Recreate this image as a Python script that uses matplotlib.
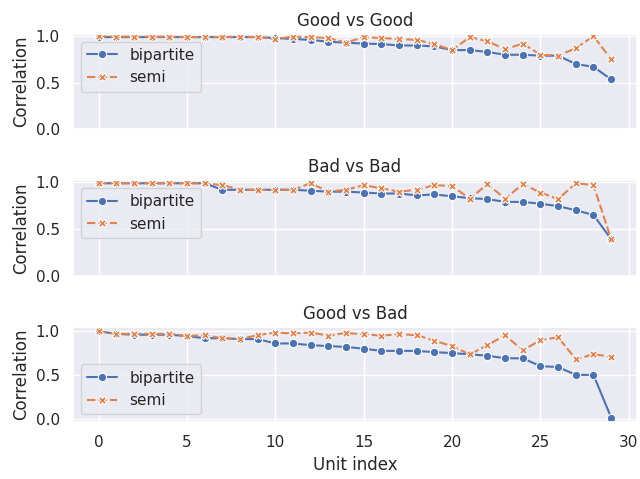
import numpy as np
import matplotlib
matplotlib.use("Agg")
import matplotlib.pyplot as plt
import seaborn as sns

units = list(range(30))

gg_bipartite = [0.99, 0.99, 0.99, 0.99, 0.99, 0.99, 0.99, 0.99, 0.99, 0.99,
                0.98, 0.97, 0.96, 0.94, 0.93, 0.92, 0.915, 0.90, 0.90, 0.89,
                0.85, 0.85, 0.83, 0.80, 0.80, 0.79, 0.79, 0.70, 0.67, 0.535]
gg_semi = [1.0, 0.995, 0.995, 0.995, 0.995, 0.99, 0.99, 0.99, 0.995, 0.99,
           0.97, 0.995, 0.99, 0.98, 0.93, 0.99, 0.98, 0.97, 0.96, 0.915,
           0.85, 0.99, 0.945, 0.86, 0.92, 0.80, 0.79, 0.87, 1.0, 0.75]

bb_bipartite = [0.99, 0.99, 0.99, 0.99, 0.99, 0.99, 0.99, 0.92, 0.92, 0.92,
                0.92, 0.92, 0.91, 0.90, 0.90, 0.89, 0.88, 0.88, 0.86, 0.87,
                0.85, 0.83, 0.82, 0.79, 0.79, 0.77, 0.745, 0.70, 0.65, 0.39]
bb_semi = [0.99, 0.99, 0.99, 0.99, 0.99, 0.99, 0.99, 0.97, 0.92, 0.92,
           0.92, 0.92, 0.99, 0.90, 0.92, 0.97, 0.935, 0.90, 0.92, 0.97,
           0.96, 0.825, 0.98, 0.825, 0.98, 0.89, 0.82, 0.99, 0.97, 0.39]

gb_bipartite = [1.0, 0.97, 0.96, 0.96, 0.96, 0.945, 0.92, 0.92, 0.91, 0.91,
                0.86, 0.86, 0.84, 0.83, 0.82, 0.80, 0.775, 0.775, 0.775, 0.76,
                0.75, 0.735, 0.72, 0.69, 0.69, 0.60, 0.59, 0.50, 0.50, 0.01]
gb_semi = [1.0, 0.97, 0.97, 0.97, 0.97, 0.945, 0.955, 0.92, 0.91, 0.955,
           0.985, 0.975, 0.985, 0.95, 0.98, 0.965, 0.95, 0.965, 0.955, 0.89,
           0.83, 0.735, 0.84, 0.955, 0.78, 0.90, 0.93, 0.68, 0.735, 0.71]

titles = ["Good vs Good", "Bad vs Bad", "Good vs Bad"]
series = [(gg_bipartite, gg_semi), (bb_bipartite, bb_semi), (gb_bipartite, gb_semi)]
legend_locs = ["upper left", "upper left", "lower left"]

sns.set_theme()
pal = sns.color_palette()

fig, axes = plt.subplots(3, 1, figsize=(6.4, 4.79), dpi=100, sharex=True)
for ax, title, (bip, semi), loc in zip(axes, titles, series, legend_locs):
    ax.plot(units, bip, color=pal[0], marker='o', linestyle='-', lw=1.5,
            markersize=6, markeredgecolor='white', markeredgewidth=0.75, label='bipartite')
    ax.plot(units, semi, color=pal[1], marker='X', linestyle=(0, (4, 1.5)), lw=1.5,
            markersize=6, markeredgecolor='white', markeredgewidth=0.75, label='semi')
    ax.set_title(title)
    ax.set_ylabel("Correlation")
    ax.set_yticks([0.0, 0.5, 1.0])
    ax.legend(loc=loc)
axes[-1].set_xlabel("Unit index")
axes[-1].set_xticks([0, 5, 10, 15, 20, 25, 30])
fig.subplots_adjust(left=0.114, right=0.995, top=0.929, bottom=0.119, hspace=0.54)
fig.savefig("out.png")
